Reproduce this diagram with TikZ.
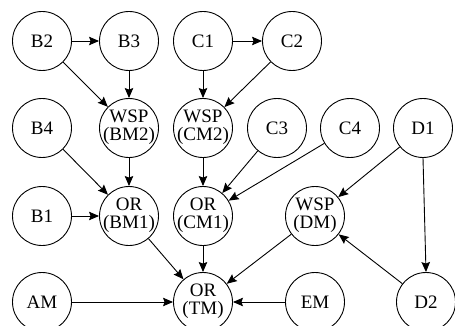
\documentclass[tikz,border=0pt]{standalone}
\usepackage{fontspec}
\setmainfont{Liberation Serif}
\usetikzlibrary{arrows.meta}
\newcommand{\twoline}[2]{\makebox[0pt]{\begin{tabular}{@{}c@{}}#1\\#2\end{tabular}}}
\begin{document}
\begin{tikzpicture}[x=1pt,y=-1pt,
  st/.style={circle,draw,line width=0.9pt,minimum size=59pt,inner sep=0pt,
     font=\fontsize{19}{16}\selectfont},
  edge/.style={line width=0.9pt,-{Stealth[length=10pt,width=8.5pt,inset=1.5pt]}}]
\useasboundingbox (0,0) rectangle (455,326);
\node[st] (B2) at (42,41) {B2};
\node[st] (B3) at (129,41) {B3};
\node[st] (C1) at (203,41) {C1};
\node[st] (C2) at (292,41) {C2};
\node[st] (B4) at (42,128) {B4};
\node[st] (BM2) at (129,128) {\twoline{WSP}{(BM2)}};
\node[st] (CM2) at (203,128) {\twoline{WSP}{(CM2)}};
\node[st] (C3) at (277,128) {C3};
\node[st] (C4) at (350,128) {C4};
\node[st] (D1) at (423,128) {D1};
\node[st] (B1) at (42,216) {B1};
\node[st] (BM1) at (129,216) {\twoline{OR}{(BM1)}};
\node[st] (CM1) at (203,216) {\twoline{OR}{(CM1)}};
\node[st] (DM) at (315,216) {\twoline{WSP}{(DM)}};
\node[st] (AM) at (42,302) {AM};
\node[st] (TM) at (203,302) {\twoline{OR}{(TM)}};
\node[st] (EM) at (315,302) {EM};
\node[st] (D2) at (426,302) {D2};
\draw[edge] (B2) -- (B3);
\draw[edge] (C1) -- (C2);
\draw[edge] (B2) -- (BM2);
\draw[edge] (B3) -- (BM2);
\draw[edge] (C1) -- (CM2);
\draw[edge] (C2) -- (CM2);
\draw[edge] (B4) -- (BM1);
\draw[edge] (BM2) -- (BM1);
\draw[edge] (CM2) -- (CM1);
\draw[edge] (C3) -- (CM1);
\draw[edge] (C4) -- (CM1);
\draw[edge] (D1) -- (DM);
\draw[edge] (D1.south) -- (D2.north);
\draw[edge] (B1) -- (BM1);
\draw[edge] (BM1) -- (TM);
\draw[edge] (CM1) -- (TM);
\draw[edge] (DM) -- (TM);
\draw[edge] (D2) -- (DM);
\draw[edge] (AM) -- (TM);
\draw[edge] (EM) -- (TM);
\end{tikzpicture}
\end{document}
